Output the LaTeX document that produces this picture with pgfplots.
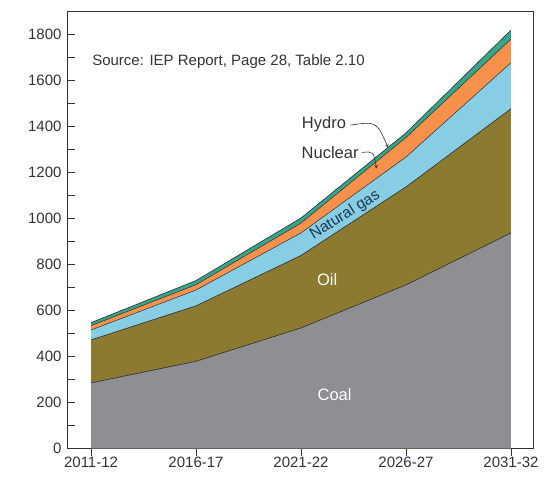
\documentclass[border=0pt]{standalone}
\usepackage{pgfplots}
\pgfplotsset{compat=1.18}
\usepackage{pgfplotstable}
\usepackage{fontspec}
\setmainfont{Liberation Sans}
\definecolor{coalc}{HTML}{8E8F93}
\definecolor{oilc}{HTML}{8C7A31}
\definecolor{gasc}{HTML}{87CEE4}
\definecolor{nucc}{HTML}{F5914B}
\definecolor{hydc}{HTML}{35A58C}
\definecolor{edge}{HTML}{2E2E2E}
\definecolor{txt}{HTML}{333333}
\definecolor{navy}{HTML}{1C3550}
% cumulative tops (MTOE)
\pgfplotstableread{
x coal oil gas nuclear hydro
0 283 470 513 532 545
1 377 618 687 710 728
2 522 837 935 978 1000
3 709 1135 1265 1350 1370
4 935 1475 1675 1778 1817
}\datatable
\begin{document}
\begin{tikzpicture}
\begin{axis}[
  at={(0,0)}, anchor=south west,
  scale only axis, width=466bp, height=437bp,
  xmin=-0.229, xmax=4.21, ymin=0, ymax=1900,
  xtick={0,1,2,3,4},
  xticklabels={2011-12,2016-17,2021-22,2026-27,2031-32},
  ytick={0,200,...,1800},
  minor ytick={100,300,...,1700},
  xtick pos=bottom, ytick pos=left,
  tick align=inside,
  major tick length=8bp, minor tick length=8bp,
  major x tick style={yshift=-8bp},
  tick style={txt, line width=0.6pt},
  axis line style={txt, line width=0.7pt},
  /pgf/number format/assume math mode=true,
  /pgf/number format/1000 sep={},
  ticklabel style={font=\fontsize{15bp}{18bp}\selectfont, text=txt},
  xticklabel style={yshift=-6bp},
  yticklabel style={xshift=-2bp},
]
% filled areas (largest first)
\addplot[fill=hydc, draw=none] table[x=x,y=hydro]{\datatable} \closedcycle;
\addplot[fill=nucc, draw=none] table[x=x,y=nuclear]{\datatable} \closedcycle;
\addplot[fill=gasc, draw=none] table[x=x,y=gas]{\datatable} \closedcycle;
\addplot[fill=oilc, draw=none] table[x=x,y=oil]{\datatable} \closedcycle;
\addplot[fill=coalc, draw=none] table[x=x,y=coal]{\datatable} \closedcycle;
% boundary lines
\addplot[edge, line width=0.6pt, mark=none] table[x=x,y=coal]{\datatable};
\addplot[edge, line width=0.6pt, mark=none] table[x=x,y=oil]{\datatable};
\addplot[edge, line width=0.5pt, mark=none] table[x=x,y=gas]{\datatable};
\addplot[edge, line width=0.5pt, mark=none] table[x=x,y=nuclear]{\datatable};
\addplot[edge, line width=0.6pt, mark=none] table[x=x,y=hydro]{\datatable};
% labels
\node[font=\fontsize{15bp}{17bp}\selectfont, text=txt, anchor=west, inner sep=0pt] at (axis cs:0.01,1678) {Source: IEP Report, Page 28, Table 2.10};
\node[font=\fontsize{16.5bp}{19bp}\selectfont, text=white] at (axis cs:2.32,230) {Coal};
\node[font=\fontsize{16.5bp}{19bp}\selectfont, text=white] at (axis cs:2.25,730) {Oil};
\node[font=\fontsize{15.5bp}{18bp}\selectfont, text=navy, rotate=32, inner sep=0pt] at (axis cs:2.42,1012) {Natural gas};
\node[font=\fontsize{16.5bp}{19bp}\selectfont, text=txt, anchor=east, inner sep=1pt] at (axis cs:2.44,1407) {Hydro};
\node[font=\fontsize{16.5bp}{19bp}\selectfont, text=txt, anchor=east, inner sep=1pt] at (axis cs:2.56,1283) {Nuclear};
\draw[txt, line width=0.6pt, -stealth] (axis cs:2.47,1404) .. controls (axis cs:2.72,1420) .. (axis cs:2.83,1306);
\draw[txt, line width=0.6pt, -stealth] (axis cs:2.58,1285) .. controls (axis cs:2.69,1290) .. (axis cs:2.72,1215);
\node[font=\fontsize{15bp}{18bp}\selectfont, text=txt, rotate=90] at (axis description cs:-0.101,0.47) {MTOE};
\node[font=\fontsize{15bp}{18bp}\selectfont, text=txt, rotate=90] at (axis description cs:1.019,0.49) {MTOE};
\end{axis}
\pgfresetboundingbox
\path (-67bp,-32bp) rectangle (483bp,448bp);
\end{tikzpicture}
\end{document}
